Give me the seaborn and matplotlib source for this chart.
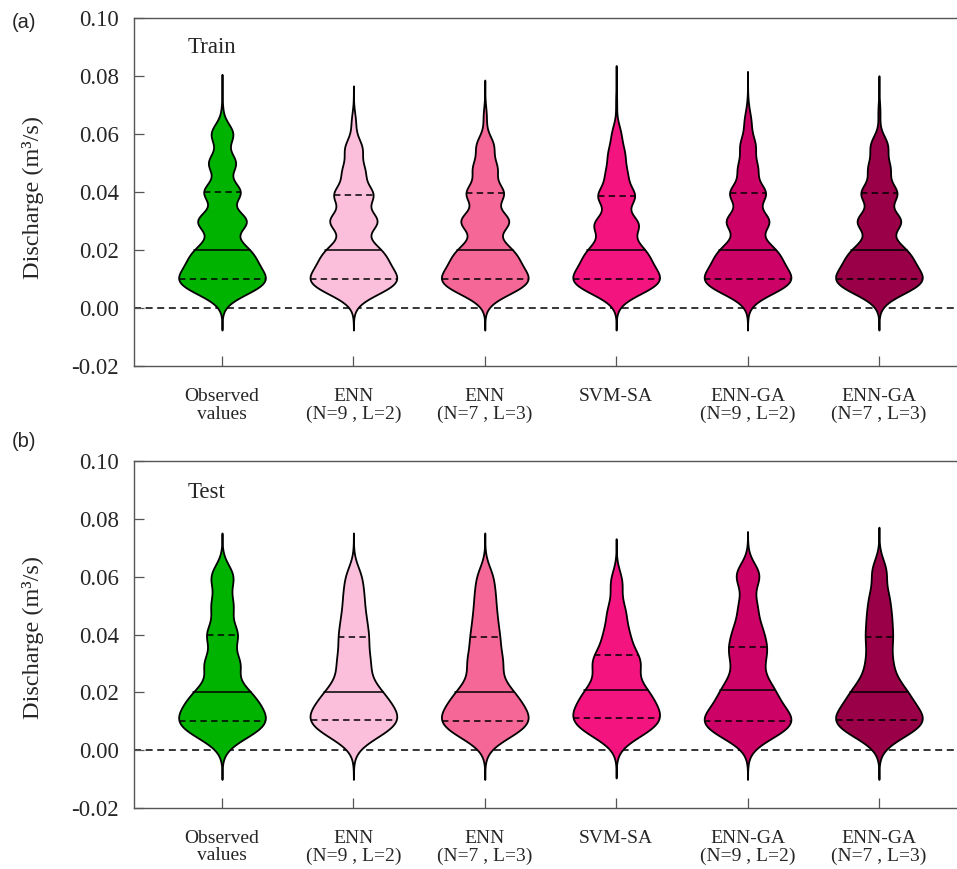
import numpy as np
import pandas as pd
import matplotlib
matplotlib.use("Agg")
import matplotlib.pyplot as plt
import seaborn as sns

# ---------------------------------------------------------------- data
categories = [
    "Observed\nvalues",
    "ENN\n(N=9 , L=2)",
    "ENN\n(N=7 , L=3)",
    "SVM-SA",
    "ENN-GA\n(N=9 , L=2)",
    "ENN-GA\n(N=7 , L=3)",
]
colors = ["#00b300", "#fbbfdc", "#f46797", "#f3147f", "#cd0266", "#9a0048"]

# Training period: discharge levels (m3/s) and number of records at each level
train_observed_q = [0.005, 0.0075, 0.010, 0.0125, 0.015, 0.0175, 0.020, 0.0225, 0.030, 0.040, 0.050, 0.060, 0.068]
train_observed_n = [15, 27, 35, 19, 20, 20, 20, 12, 46, 35, 26, 21, 1]
train_enn92_q = [0.005, 0.0075, 0.010, 0.0125, 0.015, 0.0175, 0.020, 0.0225, 0.030, 0.039, 0.047, 0.055, 0.064]
train_enn92_n = [15, 27, 35, 19, 20, 20, 20, 12, 44, 36, 20, 16, 4]
train_enn73_q = [0.005, 0.0075, 0.010, 0.0125, 0.015, 0.0175, 0.020, 0.0225, 0.030, 0.0395, 0.048, 0.056, 0.066]
train_enn73_n = [15, 27, 35, 19, 20, 20, 20, 12, 45, 35, 22, 16, 3]
train_svmsa_q = [0.005, 0.0075, 0.010, 0.0125, 0.015, 0.0175, 0.020, 0.0225, 0.029, 0.0385, 0.046, 0.053, 0.060, 0.071]
train_svmsa_n = [14, 27, 35, 20, 20, 20, 20, 14, 40, 34, 18, 14, 8, 1]
train_ennga92_q = [0.005, 0.0075, 0.010, 0.0125, 0.015, 0.0175, 0.020, 0.0225, 0.030, 0.0395, 0.048, 0.056, 0.064, 0.069]
train_ennga92_n = [14, 27, 35, 20, 20, 20, 20, 14, 40, 34, 18, 14, 6, 1]
train_ennga73_q = [0.005, 0.0075, 0.010, 0.0125, 0.015, 0.0175, 0.020, 0.0225, 0.030, 0.0395, 0.048, 0.056, 0.0675]
train_ennga73_n = [14, 27, 35, 20, 20, 20, 20, 12, 41, 34, 20, 16, 2]

# Testing period
test_observed_q = [0.005, 0.0075, 0.010, 0.0125, 0.015, 0.0175, 0.020, 0.0225, 0.030, 0.040, 0.050, 0.060]
test_observed_n = [16, 22, 28, 18, 18, 16, 18, 10, 30, 27, 19, 20]
test_enn92_q = [0.005, 0.0075, 0.0105, 0.0125, 0.015, 0.0175, 0.0202, 0.0225, 0.0275, 0.0325, 0.0393, 0.046, 0.053, 0.060]
test_enn92_n = [16, 22, 28, 18, 18, 16, 18, 10, 16, 18, 20, 16, 14, 12]
test_enn73_q = [0.005, 0.0075, 0.0102, 0.0125, 0.015, 0.0175, 0.0202, 0.0225, 0.0275, 0.032, 0.039, 0.046, 0.053, 0.060]
test_enn73_n = [16, 22, 28, 18, 18, 16, 18, 10, 14, 20, 20, 16, 14, 12]
test_svmsa_q = [0.0055, 0.008, 0.011, 0.0135, 0.016, 0.0185, 0.0208, 0.023, 0.029, 0.033, 0.040, 0.048, 0.058]
test_svmsa_n = [16, 22, 28, 18, 18, 13, 18, 12, 24, 20, 18, 14, 10]
test_ennga92_q = [0.005, 0.0075, 0.0102, 0.0125, 0.015, 0.0175, 0.0207, 0.023, 0.0275, 0.0315, 0.0358, 0.042, 0.050, 0.0605]
test_ennga92_n = [16, 22, 28, 16, 16, 12, 18, 12, 10, 12, 20, 18, 14, 20]
test_ennga73_q = [0.005, 0.0075, 0.0104, 0.0125, 0.015, 0.0175, 0.020, 0.0225, 0.027, 0.032, 0.039, 0.046, 0.053, 0.062]
test_ennga73_n = [14, 22, 30, 16, 16, 12, 18, 12, 12, 14, 18, 16, 14, 12]

y_ticks = [-0.02, 0.00, 0.02, 0.04, 0.06, 0.08, 0.10]

train_series = [
    (train_observed_q, train_observed_n), (train_enn92_q, train_enn92_n),
    (train_enn73_q, train_enn73_n), (train_svmsa_q, train_svmsa_n),
    (train_ennga92_q, train_ennga92_n), (train_ennga73_q, train_ennga73_n),
]
test_series = [
    (test_observed_q, test_observed_n), (test_enn92_q, test_enn92_n),
    (test_enn73_q, test_enn73_n), (test_svmsa_q, test_svmsa_n),
    (test_ennga92_q, test_ennga92_n), (test_ennga73_q, test_ennga73_n),
]


def long_frame(series):
    parts = []
    for name, (levels, counts) in zip(categories, series):
        parts.append(pd.DataFrame({"model": name,
                                   "discharge": np.repeat(levels, counts)}))
    return pd.concat(parts, ignore_index=True)


def fixed_bandwidth(sigma):
    # kernel width given in m3/s, independent of each sample's spread
    return lambda kde: sigma / np.std(kde.dataset, ddof=1)


# ---------------------------------------------------------------- style
sns.set_style("ticks")
plt.rcParams["font.family"] = ["Liberation Serif", "DejaVu Serif"]
plt.rcParams["axes.unicode_minus"] = False

fig = plt.figure(figsize=(9.57, 8.69), dpi=100)
fig.patch.set_facecolor("white")
ax_a = fig.add_axes([0.140, 0.5788, 0.8704, 0.4005])
ax_b = fig.add_axes([0.140, 0.0702, 0.8704, 0.3993])

panels = [
    (ax_a, train_series, 0.0035, "Train", 0.899, "(a)", 1 - 13 / 869, 0.484),
    (ax_b, test_series, 0.0042, "Test", 0.8925, "(b)", 1 - 432 / 869, 0.49),
]

spine_color = "#555555"
for ax, series, sigma, title, title_y, tag, tag_y, ylab_y in panels:
    df = long_frame(series)
    sns.violinplot(
        data=df, x="model", y="discharge", hue="model",
        order=categories, hue_order=categories, palette=colors,
        saturation=1, inner="quart", density_norm="width", width=0.66,
        cut=3.6, gridsize=400, bw_method=fixed_bandwidth(sigma),
        linewidth=1.3, linecolor="black", legend=False, ax=ax,
        inner_kws=dict(color="black", linewidth=1.1),
    )
    # quartiles dashed, median solid
    for i, line in enumerate(ax.lines):
        line.set_color("black")
        line.set_linewidth(1.1)
        if i % 3 == 1:
            line.set_linestyle("-")
        else:
            line.set_linestyle((0, (4.2, 2.8)))

    ax.axhline(0, color="black", linewidth=1.1, linestyle=(0, (4.6, 3.0)),
               zorder=0.5)

    ax.set_xlim(-0.67, 5.67)
    ax.set_ylim(-0.02, 0.10)
    ax.set_yticks(y_ticks, [f"{v:.2f}" for v in y_ticks], fontsize=16.5)
    ax.set_xticks(range(len(categories)), categories, fontsize=14,
                  linespacing=1.02)
    ax.set_xlabel("")
    ax.set_ylabel("Discharge (m³/s)", fontsize=17.5)
    ax.yaxis.set_label_coords(-0.108, ylab_y)

    ax.tick_params(axis="both", direction="in", length=7, width=0.9,
                   color=spine_color)
    ax.tick_params(axis="y", pad=11)
    ax.tick_params(axis="x", pad=16)
    for side in ("left", "bottom", "top"):
        ax.spines[side].set_visible(True)
        ax.spines[side].set_color(spine_color)
        ax.spines[side].set_linewidth(1.0)
    ax.spines["right"].set_visible(False)
    ax.set_facecolor("white")

    ax.text(0.065, title_y, title, transform=ax.transAxes, fontsize=16.5,
            ha="left", va="baseline")
    fig.text(0.012, tag_y, tag, fontsize=14.5, ha="left", va="top",
             family=["Liberation Sans", "DejaVu Sans"])

fig.savefig("out.png", dpi=100)
